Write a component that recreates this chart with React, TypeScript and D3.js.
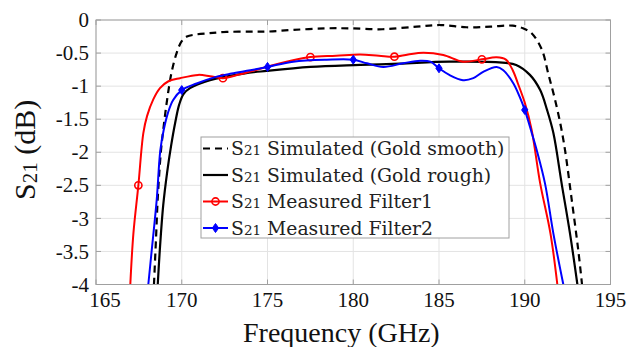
import React from "react";
import * as d3 from "d3";

type P = [number, number];

const xTicks = [165, 170, 175, 180, 185, 190, 195];
const yTicks = [0, -0.5, -1, -1.5, -2, -2.5, -3, -3.5, -4];
const xTickLabels = ["165", "170", "175", "180", "185", "190", "195"];
const yTickLabels = ["0", "-0.5", "-1", "-1.5", "-2", "-2.5", "-3", "-3.5", "-4"];

const seriesNames = [
  " Simulated (Gold smooth)",
  " Simulated (Gold rough)",
  " Measured Filter1",
  " Measured Filter2",
];

const goldSmooth: P[] = [
  [168.38, -4], [168.5, -3.3], [168.6, -2.7], [168.78, -2.0], [168.95, -1.6],
  [169.15, -1.2], [169.4, -0.8], [169.7, -0.5], [170.0, -0.32], [170.3, -0.25],
  [170.8, -0.22], [171.6, -0.2], [172.6, -0.18], [174, -0.177], [175, -0.175],
  [176.5, -0.15], [178.4, -0.126], [179.8, -0.126], [181.7, -0.14], [183.7, -0.1],
  [185.1, -0.076], [186.6, -0.11], [188, -0.1], [189.3, -0.086], [189.9, -0.126],
  [190.4, -0.2], [191.0, -0.45], [191.36, -0.8], [191.76, -1.2], [192.1, -1.6],
  [192.35, -1.97], [192.74, -2.72], [193.12, -3.48], [193.34, -4],
];

const goldRough: P[] = [
  [168.6, -4], [168.72, -3.48], [168.92, -2.8], [169.15, -2.3], [169.38, -1.9],
  [169.62, -1.55], [169.85, -1.28], [170.1, -1.12], [170.48, -1.03], [171.65, -0.91],
  [173.6, -0.81], [174.95, -0.77], [177.5, -0.71], [180.4, -0.68], [182.7, -0.66],
  [185.6, -0.63], [188.7, -0.645], [189.5, -0.68], [190.3, -0.83], [190.9, -1.06],
  [191.3, -1.36], [191.67, -1.71], [192.15, -2.47], [192.64, -3.23], [193.07, -4],
];

const filter1: P[] = [
  [167.0, -4], [167.18, -3.23], [167.47, -2.5], [167.76, -1.71], [167.98, -1.45],
  [168.34, -1.2], [168.73, -1.03], [169.2, -0.93], [169.9, -0.88], [170.96, -0.83],
  [171.65, -0.85], [172.4, -0.88], [173.4, -0.82], [174.95, -0.71], [176.3, -0.62],
  [177.5, -0.56], [179, -0.54], [180.4, -0.52], [181.5, -0.54], [182.4, -0.555],
  [183.2, -0.52], [184.1, -0.495], [185.25, -0.53], [186.4, -0.63], [187.5, -0.595],
  [188.36, -0.565], [188.9, -0.6], [189.3, -0.76], [189.6, -0.96], [190.0, -1.25],
  [190.4, -1.66], [190.9, -2.47], [191.5, -3.23], [191.9, -4],
];

const filter2: P[] = [
  [168.05, -4], [168.25, -3.48], [168.54, -2.72], [168.75, -1.97], [168.95, -1.66],
  [169.2, -1.4], [169.5, -1.21], [170.0, -1.06], [170.87, -0.96], [172.0, -0.86],
  [172.9, -0.81], [174.0, -0.76], [175.0, -0.71], [176.5, -0.63], [178.45, -0.6],
  [180.0, -0.6], [180.8, -0.655], [181.75, -0.71], [182.9, -0.655], [183.9, -0.615],
  [184.5, -0.63], [185.0, -0.73], [185.6, -0.83], [186.4, -0.91], [187.0, -0.88],
  [187.6, -0.78], [188.36, -0.71], [188.75, -0.76], [189.34, -0.96], [189.7, -1.16],
  [190.0, -1.36], [190.4, -1.7], [190.7, -1.97], [191.18, -2.47], [191.67, -3.23],
  [192.25, -4],
];

const filter1Markers: P[] = [
  [167.47, -2.5], [172.4, -0.88], [177.5, -0.56], [182.4, -0.555], [187.5, -0.595],
];
const filter2Markers: P[] = [
  [170.0, -1.06], [175.0, -0.71], [180.0, -0.6], [185.0, -0.73], [190.0, -1.36],
];

const W = 634;
const H = 347;
const L = 96;
const R = 610.5;
const T = 20;
const B = 284.5;

export default function App() {
  const x = d3.scaleLinear().domain([165, 195]).range([L, R]);
  const y = d3.scaleLinear().domain([-4, 0]).range([B, T]);
  const line = d3
    .line<P>()
    .x((d) => x(d[0]))
    .y((d) => y(d[1]))
    .curve(d3.curveCatmullRom.alpha(0.5));

  const gridColor = "#e3e3e3";
  const axisColor = "#a0a0a0";
  const serif = "'Liberation Serif', 'Times New Roman', serif";
  const legendFont = "'DejaVu Serif', serif";

  const diamond = (cx: number, cy: number, s = 4.5) =>
    `M${cx},${cy - s} L${cx + s * 0.7},${cy} L${cx},${cy + s} L${cx - s * 0.7},${cy} Z`;

  const legendX = 201;
  const legendY = 137;
  const legendW = 308;
  const legendH = 101;
  const rowY = [148.5, 175, 201.5, 228];

  return (
    <div style={{ position: "fixed", left: 0, top: 0 }}>
      <svg width={W} height={H} style={{ display: "block", background: "#fff" }}>
        <defs>
          <clipPath id="plotclip">
            <rect x={L} y={T} width={R - L} height={B - T} />
          </clipPath>
        </defs>
        {xTicks.map((t) => (
          <line key={"gx" + t} x1={x(t)} x2={x(t)} y1={T} y2={B} stroke={gridColor} strokeWidth={1} />
        ))}
        {yTicks.map((t) => (
          <line key={"gy" + t} x1={L} x2={R} y1={y(t)} y2={y(t)} stroke={gridColor} strokeWidth={1} />
        ))}
        {xTicks.map((t) => (
          <g key={"tx" + t}>
            <line x1={x(t)} x2={x(t)} y1={B} y2={B - 5} stroke={axisColor} />
            <line x1={x(t)} x2={x(t)} y1={T} y2={T + 5} stroke={axisColor} />
          </g>
        ))}
        {yTicks.map((t) => (
          <g key={"ty" + t}>
            <line x1={L} x2={L + 5} y1={y(t)} y2={y(t)} stroke={axisColor} />
            <line x1={R} x2={R - 5} y1={y(t)} y2={y(t)} stroke={axisColor} />
          </g>
        ))}
        <g clipPath="url(#plotclip)">
          <path d={line(goldSmooth) || ""} fill="none" stroke="#000" strokeWidth={2.2} strokeDasharray="7,5" />
          <path d={line(goldRough) || ""} fill="none" stroke="#000" strokeWidth={2.2} />
          <path d={line(filter1) || ""} fill="none" stroke="#ff0000" strokeWidth={2} />
          {filter1Markers.map((d, i) => (
            <circle key={"m1" + i} cx={x(d[0])} cy={y(d[1])} r={3.6} fill="none" stroke="#ff0000" strokeWidth={1.6} />
          ))}
          <path d={line(filter2) || ""} fill="none" stroke="#0000ff" strokeWidth={2} />
          {filter2Markers.map((d, i) => (
            <path key={"m2" + i} d={diamond(x(d[0]), y(d[1]))} fill="#0000ff" stroke="#0000ff" strokeWidth={1} />
          ))}
        </g>
        <rect x={L} y={T} width={R - L} height={B - T} fill="none" stroke={axisColor} strokeWidth={1} />
        {xTicks.map((t, i) => (
          <text
            key={"lx" + t}
            x={x(t) + (i === 0 ? 9 : 0)}
            y={307}
            textAnchor="middle"
            fontFamily={serif}
            fontSize={21}
            fill="#111"
          >
            {xTickLabels[i]}
          </text>
        ))}
        {yTicks.map((t, i) => (
          <text
            key={"ly" + t}
            x={89}
            y={y(t)}
            dy="0.34em"
            textAnchor="end"
            fontFamily={serif}
            fontSize={21}
            fill="#111"
          >
            {yTickLabels[i]}
          </text>
        ))}
        <text x={243} y={342} fontFamily={serif} fontSize={28} fill="#111">
          Frequency (GHz)
        </text>
        <text transform="translate(35,200) rotate(-90)" fontFamily={serif} fontSize={30} fill="#111">
          S<tspan fontSize={21} dy={2}>21</tspan>
          <tspan dy={-2}> (dB)</tspan>
        </text>
        <rect x={legendX} y={legendY} width={legendW} height={legendH} fill="#fff" stroke={axisColor} strokeWidth={1} />
        {rowY.map((ry, i) => (
          <g key={"leg" + i}>
            {i === 0 && (
              <line x1={203} x2={228} y1={ry} y2={ry} stroke="#000" strokeWidth={2.2} strokeDasharray="7,5" />
            )}
            {i === 1 && <line x1={203} x2={228} y1={ry} y2={ry} stroke="#000" strokeWidth={2.2} />}
            {i === 2 && (
              <g>
                <line x1={203} x2={228} y1={ry} y2={ry} stroke="#ff0000" strokeWidth={2} />
                <circle cx={215.5} cy={ry} r={3.6} fill="none" stroke="#ff0000" strokeWidth={1.6} />
              </g>
            )}
            {i === 3 && (
              <g>
                <line x1={203} x2={228} y1={ry} y2={ry} stroke="#0000ff" strokeWidth={2} />
                <path d={diamond(215.5, ry)} fill="#0000ff" stroke="#0000ff" strokeWidth={1} />
              </g>
            )}
            <text x={231} y={ry} dy="0.36em" fontFamily={legendFont} fontSize={18.8} fill="#222">
              S<tspan fontSize={13.5}>21</tspan>
              {seriesNames[i]}
            </text>
          </g>
        ))}
      </svg>
    </div>
  );
}
